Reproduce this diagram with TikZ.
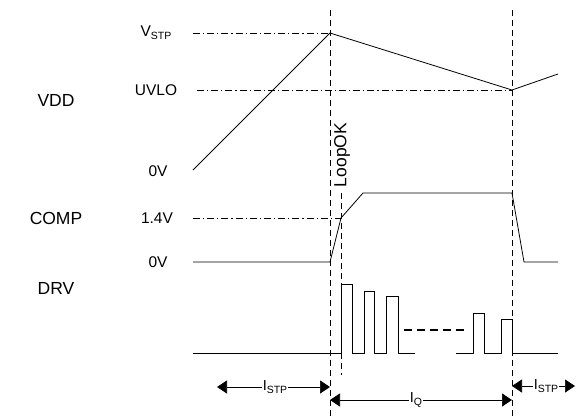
\documentclass[tikz,border=0pt]{standalone}
\usepackage{fontspec}
\setmainfont{Liberation Sans}
\usetikzlibrary{arrows.meta}
\newcommand{\mysub}[1]{\raisebox{-0.4ex}{\fontsize{10.5}{12}\selectfont #1}}
\begin{document}
\begin{tikzpicture}[x=1pt,y=-1pt,
  sig/.style={line width=0.8pt, line join=miter},
  lvl/.style={line width=0.6pt, dash pattern=on 7pt off 3pt on 1.2pt off 3pt},
  vdash/.style={line width=0.7pt, dash pattern=on 6pt off 4pt},
  thickdash/.style={line width=2pt, dash pattern=on 8pt off 5pt},
  dim/.style={line width=0.7pt, {Triangle[length=10pt,width=13pt]}-{Triangle[length=10pt,width=13pt]}},
  biglab/.style={font=\fontsize{17.5}{21}\selectfont, inner sep=0pt},
  smalllab/.style={font=\fontsize{15.5}{18}\selectfont, inner sep=0pt},
  dimlab/.style={font=\fontsize{14.5}{17}\selectfont, fill=white, inner sep=1pt},
  ]
\useasboundingbox (0,0) rectangle (576,416);

% vertical markers
\coordinate (t1top) at (330,10); \coordinate (t1bot) at (330,416);
\coordinate (t2top) at (512,10); \coordinate (t2bot) at (512,416);
\coordinate (t3top) at (341,193); \coordinate (t3bot) at (341,375);
\draw[vdash] (t1top) -- (t1bot);
\draw[vdash] (t2top) -- (t2bot);
\draw[vdash] (t3top) -- (t3bot);

% signal labels
\node[biglab] (lvdd) at (56,100) {VDD};
\node[biglab] (lcomp) at (56,218) {COMP};
\node[biglab] (ldrv) at (56,288) {DRV};

% level labels
\node[smalllab] (lvstp) at (156,33) {V\mysub{STP}};
\node[smalllab] (luvlo) at (156,90) {UVLO};
\node[smalllab] (l0a) at (158,171) {0V};
\node[smalllab] (l14) at (157,218) {1.4V};
\node[smalllab] (l0b) at (158,262) {0V};

% level lines
\draw[lvl] (193,33) -- (330,33);
\draw[lvl] (197,90) -- (512,90);
\draw[lvl] (193,218) -- (341,218);

% VDD
\draw[sig] (193,170) -- (330,33) -- (512,90) -- (558,74);

% COMP
\draw[sig] (193,262) -- (330,262) -- (341,218) -- (363,193) -- (512,193) -- (524,262) -- (558,262);

% LoopOK
\node[smalllab, font=\fontsize{17.5}{20}\selectfont, rotate=90] (loopok) at (342,155) {LoopOK};

% DRV
\draw[sig] (193,353) -- (341,353) -- (341,284) -- (352,284) -- (352,353)
  -- (364,353) -- (364,291) -- (374,291) -- (374,353)
  -- (386,353) -- (386,296) -- (398,296) -- (398,353) -- (415,353);
\draw[thickdash] (404,330) -- (467,330);
\draw[sig] (456,353) -- (473,353) -- (473,313) -- (484,313) -- (484,353)
  -- (501,353) -- (501,319) -- (512,319) -- (512,353) -- (558,353);

% dimensions
\coordinate (a1) at (217,387); \coordinate (a2) at (330,387);
\coordinate (b1) at (330,400); \coordinate (b2) at (512,400);
\coordinate (c1) at (512,386); \coordinate (c2) at (575,386);
\draw[dim] (a1) -- (a2);
\draw[dim] (b1) -- (b2);
\draw[dim] (c1) -- (c2);
\node[dimlab] (istp1) at (275,387) {I\mysub{STP}};
\node[dimlab] (iq) at (416,400) {I\mysub{Q}};
\node[dimlab] (istp2) at (546,386) {I\mysub{STP}};
\end{tikzpicture}
\end{document}
